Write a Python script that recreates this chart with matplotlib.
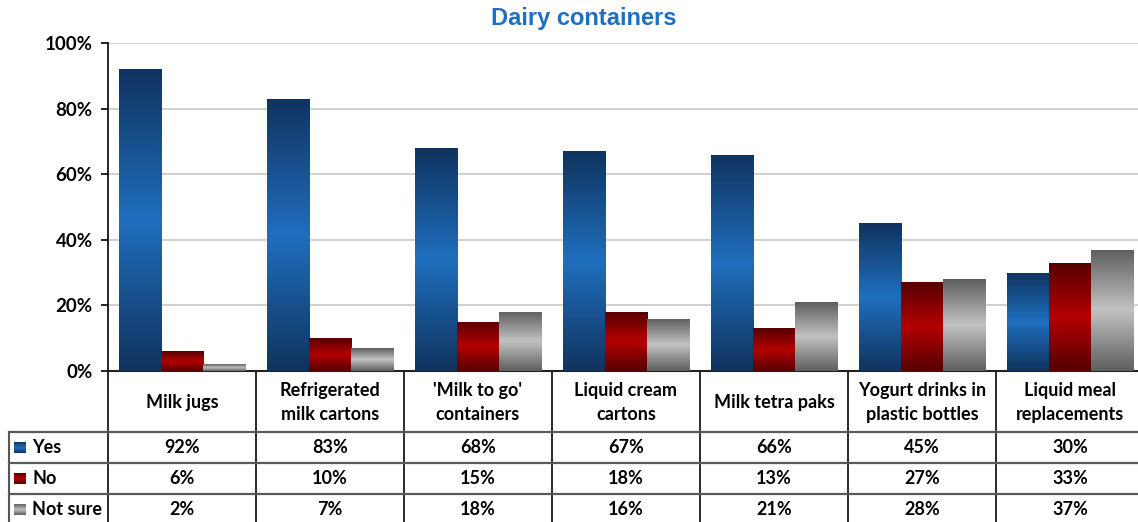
"""
Dairy containers survey chart: clustered gradient bars with a data table below.
"""

import matplotlib
matplotlib.use('Agg')

import matplotlib.pyplot as plt
import numpy as np
from matplotlib.colors import LinearSegmentedColormap
from matplotlib.patches import Rectangle

plt.rcParams['font.family'] = ['Lato', 'DejaVu Sans']

# --- data ---
CATEGORIES = ['Milk jugs', 'Refrigerated\nmilk cartons', "'Milk to go'\ncontainers",
              'Liquid cream\ncartons', 'Milk tetra paks',
              'Yogurt drinks in\nplastic bottles', 'Liquid meal\nreplacements']
SERIES   = ['Yes', 'No', 'Not sure']
YES      = [92, 83, 68, 67, 66, 45, 30]
NO       = [6, 10, 15, 18, 13, 27, 33]
NOT_SURE = [2, 7, 18, 16, 21, 28, 37]
Y_TICKS  = [0, 20, 40, 60, 80, 100]

# dark edge / light centre of each series gradient
GRADIENTS = {
    'Yes':      ('#10335e', '#1f6fbe'),
    'No':       ('#560000', '#b40000'),
    'Not sure': ('#5e5e5e', '#c2c2c2'),
}

W, H = 1138, 522
PLOT_LEFT, PLOT_TOP, PLOT_BOTTOM = 108, 43, 371
COL_W = 148
ROW_LINES = [432, 463, 494, 525]
BAR_W = 0.285
TXT = 13


def _cmap(name):
    dark, light = GRADIENTS[name]
    return LinearSegmentedColormap.from_list(name, [dark, light, dark])


def _gradient_fill(ax, patch, cmap):
    """Paint a vertical dark-light-dark gradient clipped to the patch."""
    x0, y0 = patch.get_x(), patch.get_y()
    w, h = patch.get_width(), patch.get_height()
    grad = np.linspace(0, 1, 256).reshape(-1, 1)
    im = ax.imshow(grad, cmap=cmap, aspect='auto', origin='lower',
                   extent=(x0, x0 + w, y0, y0 + h), zorder=patch.get_zorder(),
                   interpolation='bicubic')
    im.set_clip_path(patch)
    patch.set_facecolor('none')


fig = plt.figure(figsize=(W / 100, H / 100), dpi=100)
fig.patch.set_facecolor('white')

# --- bar chart ---
ax = fig.add_axes([PLOT_LEFT / W, 1 - PLOT_BOTTOM / H,
                   len(CATEGORIES) * COL_W / W, (PLOT_BOTTOM - PLOT_TOP) / H])
series_values = [YES, NO, NOT_SURE]
x = np.arange(len(CATEGORIES)) + 0.5
for j, (name, vals) in enumerate(zip(SERIES, series_values)):
    bars = ax.bar(x + (j - 1) * BAR_W, vals, width=BAR_W, linewidth=0, zorder=3)
    for b in bars:
        _gradient_fill(ax, b, _cmap(name))

ax.set_xlim(0, len(CATEGORIES))
ax.set_ylim(0, 100)
ax.set_yticks(Y_TICKS)
ax.set_yticklabels([f'{t}%' for t in Y_TICKS], fontsize=13.5, fontweight='bold')
ax.tick_params(axis='y', direction='out', length=5, width=1.2, pad=6, colors='black')
ax.set_xticks([])
ax.yaxis.grid(True, color='#c8c8c8', linewidth=1.2, zorder=0)
ax.set_axisbelow(True)
for side in ('top', 'right'):
    ax.spines[side].set_visible(False)
ax.spines['left'].set_linewidth(1.2)
ax.spines['bottom'].set_linewidth(1.5)
ax.spines['bottom'].set_color('#222222')

# --- data table (pixel coordinates) ---
tab = fig.add_axes([0, 0, 1, 1], zorder=-1)
tab.set_xlim(0, W)
tab.set_ylim(H, 0)
tab.axis('off')

col_edges = [PLOT_LEFT + i * COL_W for i in range(len(CATEGORIES) + 1)]
for xe in col_edges:
    tab.plot([xe, xe], [PLOT_BOTTOM, H + 5], color='#1a1a1a', lw=1.3)
tab.plot([9, 9], [ROW_LINES[0], H + 5], color='#555555', lw=1.5)
for yl in ROW_LINES[:-1]:
    tab.plot([9, W], [yl, yl], color='#5a5a5a', lw=1.6)

for i, cat in enumerate(CATEGORIES):
    cx = col_edges[i] + COL_W / 2
    tab.text(cx, (PLOT_BOTTOM + ROW_LINES[0]) / 2 + 1, cat, ha='center', va='center',
             fontsize=TXT, fontweight='bold', linespacing=1.55)

for r, (name, vals) in enumerate(zip(SERIES, series_values)):
    yc = (ROW_LINES[r] + ROW_LINES[r + 1]) / 2
    key = Rectangle((14, yc - 5.5), 12, 11, facecolor='none', edgecolor='none')
    tab.add_patch(key)
    _gradient_fill(tab, key, _cmap(name))
    tab.text(32, yc, name, ha='left', va='center', fontsize=TXT, fontweight='bold')
    for i, v in enumerate(vals):
        cx = col_edges[i] + COL_W / 2
        tab.text(cx, yc, f'{v}%', ha='center', va='center',
                 fontsize=TXT, fontweight='bold')

fig.text(584 / W, 1 - 19 / H, 'Dairy containers', ha='center', va='center',
         fontsize=17, fontweight='bold', color='#1f6fc0',
         family=['Liberation Sans', 'DejaVu Sans'])

fig.savefig('out.png', dpi=100)
plt.close(fig)
